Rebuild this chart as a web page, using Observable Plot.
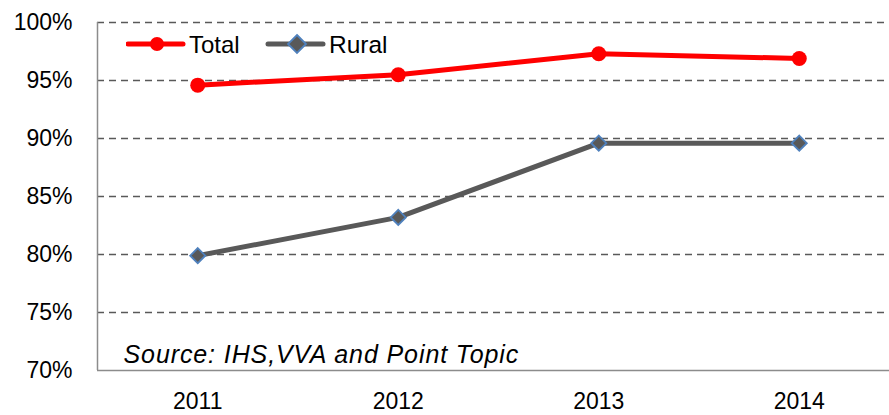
<!DOCTYPE html>
<html>
<head>
<meta charset="utf-8">
<script src="https://cdn.jsdelivr.net/npm/d3@7"></script>
<script src="https://cdn.jsdelivr.net/npm/@observablehq/plot@0.6"></script>
<style>
  html, body { margin: 0; padding: 0; background: #fff; }
  #wrap { position: relative; width: 889px; height: 415px; font-family: "Liberation Sans", Arial, sans-serif; }
  #legend { position: absolute; left: 126px; top: 30px; }
</style>
</head>
<body>
<div id="wrap"></div>
<script>
const years = [2011, 2012, 2013, 2014];
const totalValues = [0.946, 0.955, 0.973, 0.969];
const ruralValues = [0.799, 0.832, 0.896, 0.896];
const yTicks = [0.70, 0.75, 0.80, 0.85, 0.90, 0.95, 1.00];
const seriesNames = ["Total", "Rural"];
const sourceText = "Source: IHS,VVA and Point Topic";

const total = years.map((y, i) => ({year: y, value: totalValues[i]}));
const rural = years.map((y, i) => ({year: y, value: ruralValues[i]}));

const red = "#FF0000";
const gray = "#595959";
const blue = "#4F81BD";

const chart = Plot.plot({
  width: 889,
  height: 415,
  marginLeft: 97,
  marginRight: 0,
  marginTop: 22,
  marginBottom: 45,
  style: {fontFamily: "Liberation Sans, Arial, sans-serif", background: "#fff", overflow: "visible"},
  x: {domain: [2010.5, 2014.45], axis: null},
  y: {domain: [0.70, 1.00], axis: null},
  marks: [
    Plot.ruleY(yTicks.filter(d => d > 0.70), {stroke: gray, strokeWidth: 1.5, strokeDasharray: "7,5"}),
    Plot.ruleY([0.70], {stroke: "#8c8c8c", strokeWidth: 1.5}),
    Plot.ruleX([2010.5], {stroke: "#8c8c8c", strokeWidth: 1.5}),
    Plot.axisY(yTicks, {tickSize: 0, tickPadding: 25, tickFormat: d => Math.round(d * 100) + "%", fontSize: 23, fill: "#000", label: null}),
    Plot.axisX(years, {tickSize: 0, tickPadding: 22, tickFormat: d => String(d), fontSize: 23, fill: "#000", label: null}),
    Plot.line(total, {x: "year", y: "value", stroke: red, strokeWidth: 5}),
    Plot.dot(total, {x: "year", y: "value", fill: red, r: 7.5}),
    Plot.line(rural, {x: "year", y: "value", stroke: gray, strokeWidth: 5}),
    Plot.dot(rural, {x: "year", y: "value", fill: gray, stroke: blue, strokeWidth: 1.8, symbol: "diamond2", r: 6.8}),
    Plot.text([sourceText], {frameAnchor: "bottom-left", dx: 26, dy: -8, text: d => d, fontSize: 25, fontStyle: "italic", fill: "#000", textAnchor: "start", lineAnchor: "bottom"})
  ]
});

const wrap = document.getElementById("wrap");
wrap.appendChild(chart);
d3.select(chart).selectAll("text").filter(function() { return this.textContent === sourceText; })
  .style("letter-spacing", "0.9px");

// legend
const leg = d3.select(wrap).append("svg").attr("id", "legend").attr("width", 300).attr("height", 30)
  .style("font-family", "Liberation Sans, Arial, sans-serif");
const g1 = leg.append("g");
g1.append("line").attr("x1", 2).attr("x2", 57).attr("y1", 14).attr("y2", 14).attr("stroke", red).attr("stroke-width", 5).attr("stroke-linecap", "round");
g1.append("circle").attr("cx", 31).attr("cy", 14).attr("r", 7).attr("fill", red);
g1.append("text").attr("x", 63).attr("y", 23).attr("font-size", 24).text(seriesNames[0]);
const g2 = leg.append("g");
g2.append("line").attr("x1", 142).attr("x2", 197).attr("y1", 14).attr("y2", 14).attr("stroke", gray).attr("stroke-width", 5).attr("stroke-linecap", "round");
g2.append("path").attr("d", "M171,5 L180,14 L171,23 L162,14 Z").attr("fill", gray).attr("stroke", blue).attr("stroke-width", 1.8);
g2.append("text").attr("x", 203).attr("y", 23).attr("font-size", 24.5).text(seriesNames[1]);
</script>
</body>
</html>
